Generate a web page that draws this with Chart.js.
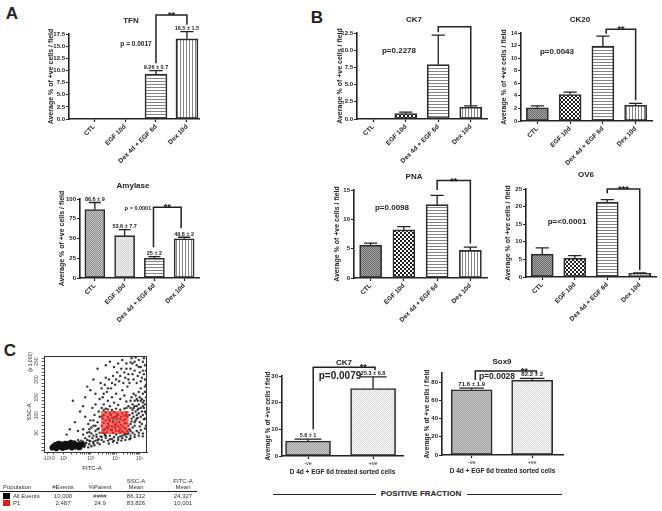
<!DOCTYPE html>
<html>
<head>
<meta charset="utf-8">
<script src="https://cdn.jsdelivr.net/npm/chart.js@4.4.1/dist/chart.umd.min.js"></script>
<style>
  body { margin: 0; background: #fff; }
  #page { position: relative; width: 662px; height: 511px; overflow: hidden; font-family: "Liberation Sans", Arial, sans-serif; color: #222; }
  #page canvas { position: absolute; }
  .t { position: absolute; white-space: nowrap; font-weight: bold; line-height: 1; transform: translate(-50%, -50%); }
  .t.v { transform: translate(-50%, -50%) rotate(-90deg); font-weight: normal; }
  .tl { position: absolute; white-space: nowrap; line-height: 1; transform: translateY(-50%); }
  .tab { font-weight: normal; font-size: 6px; color: #333; }
  .sq { position: absolute; width: 7px; height: 6px; }
  .rule { position: absolute; height: 0; border-top: 1px solid #222; }
</style>
</head>
<body>
<div id="page">
  <canvas id="tfn"></canvas>
  <canvas id="amy"></canvas>
  <canvas id="ck7"></canvas>
  <canvas id="ck20"></canvas>
  <canvas id="pna"></canvas>
  <canvas id="ov6"></canvas>
  <canvas id="facs"></canvas>
  <canvas id="sck7"></canvas>
  <canvas id="sox9"></canvas>

  <div class="t" style="left:12px;top:13px;font-size:17px">A</div>
  <div class="t" style="left:317px;top:17px;font-size:17px">B</div>
  <div class="t" style="left:10px;top:350px;font-size:17px">C</div>

  <div class="t" style="left:131px;top:21px;font-size:8px">TFN</div>
  <div class="t" style="left:133px;top:186px;font-size:8px">Amylase</div>
  <div class="t" style="left:414px;top:20px;font-size:8px">CK7</div>
  <div class="t" style="left:580px;top:20px;font-size:8px">CK20</div>
  <div class="t" style="left:414px;top:177px;font-size:8px">PNA</div>
  <div class="t" style="left:586px;top:175px;font-size:8px">OV6</div>
  <div class="t" style="left:344px;top:363px;font-size:8px">CK7</div>
  <div class="t" style="left:502px;top:362px;font-size:8px">Sox9</div>

  <div class="t" style="left:136px;top:44px;font-size:6.5px">p = 0.0017</div>
  <div class="t" style="left:138px;top:209px;font-size:5.5px">p = 0.0001</div>
  <div class="t" style="left:399px;top:51px;font-size:8px">p=0.2278</div>
  <div class="t" style="left:557px;top:52px;font-size:8px">p=0.0043</div>
  <div class="t" style="left:392px;top:208px;font-size:8px">p=0.0098</div>
  <div class="t" style="left:567px;top:222px;font-size:8px">p=&lt;0.0001</div>
  <div class="t" style="left:340px;top:376px;font-size:10px">p=0.0079</div>
  <div class="t" style="left:497px;top:376px;font-size:8.5px">p=0.0028</div>

  <div class="t v" style="left:30px;top:412px;font-size:5.5px">SSC-A</div>
  <div class="t v" style="left:30px;top:362px;font-size:5px">(x 1,000)</div>
  <div class="t" style="left:92px;top:468px;font-size:6px;font-weight:normal">FITC-A</div>
  <div class="t" style="left:115px;top:420px;font-size:5px;font-weight:normal;color:#444">P1</div>

  <div class="t tab" style="left:136px;top:481px">SSC-A</div>
  <div class="t tab" style="left:183px;top:481px">FITC-A</div>
  <div class="tl tab" style="left:3px;top:487px">Population</div>
  <div class="t tab" style="left:63px;top:487px">#Events</div>
  <div class="t tab" style="left:100px;top:487px">%Parent</div>
  <div class="t tab" style="left:136px;top:487px">Mean</div>
  <div class="t tab" style="left:183px;top:487px">Mean</div>
  <div class="rule" style="left:0;top:491px;width:197px"></div>
  <div class="sq" style="left:3px;top:493px;background:#000"></div>
  <div class="tl tab" style="left:13px;top:496px">All Events</div>
  <div class="t tab" style="left:63px;top:496px">10,000</div>
  <div class="t tab" style="left:100px;top:496px">####</div>
  <div class="t tab" style="left:136px;top:496px">86,312</div>
  <div class="t tab" style="left:183px;top:496px">24,327</div>
  <div class="sq" style="left:3px;top:500px;background:#e41b17"></div>
  <div class="tl tab" style="left:13px;top:503px">P1</div>
  <div class="t tab" style="left:63px;top:503px">2,487</div>
  <div class="t tab" style="left:100px;top:503px">24.9</div>
  <div class="t tab" style="left:136px;top:503px">83,826</div>
  <div class="t tab" style="left:183px;top:503px">10,001</div>

  <div class="rule" style="left:273px;top:494px;width:103px"></div>
  <div class="t" style="left:421px;top:494px;font-size:8px">POSITIVE FRACTION</div>
  <div class="rule" style="left:467px;top:494px;width:95px"></div>
</div>
<script>
// ---- data ----
var groups = ['CTL', 'EGF 10d', 'Dex 4d + EGF 6d', 'Dex 10d'];
var sortedGroups = ['-ve', '+ve'];

var tfnMean = [0, 0, 9.26, 16.5];
var tfnErr = [0, 0, 0.7, 1.5];
var tfnLabels = ['', '', '9.26 ± 0.7', '16.5 ± 1.5'];
var tfnTicks = [0, 2.5, 5, 7.5, 10, 12.5, 15, 17.5];

var amyMean = [86.6, 53.6, 25, 49.6];
var amyErr = [9, 7.7, 2, 2];
var amyLabels = ['86.6 ± 9', '53.6 ± 7.7', '25 ± 2', '49.6 ± 2'];
var amyTicks = [0, 25, 50, 75, 100];

var ck7Mean = [0, 0.8, 7.9, 1.7];
var ck7Err = [0, 0.2, 4.3, 0.2];
var ck7Ticks = [0, 2.5, 5, 7.5, 10, 12.5];

var ck20Mean = [2.1, 4.2, 11.9, 2.5];
var ck20Err = [0.3, 0.4, 1.6, 0.3];
var ck20Ticks = [0, 1, 2, 3, 4, 5, 6, 7, 8, 9, 10, 11, 12, 13, 14];

var pnaMean = [5.6, 8.2, 12.5, 4.7];
var pnaErr = [0.35, 0.55, 1.6, 0.55];
var pnaTicks = [0, 5, 10, 15];

var ov6Mean = [6.5, 5.3, 21.3, 1.05];
var ov6Err = [1.8, 0.8, 0.7, 0.15];
var ov6Ticks = [0, 5, 10, 15, 20, 25];

var sortCk7Mean = [5.6, 25.3];
var sortCk7Err = [0.7, 4.4];
var sortCk7Labels = ['5.6 ± 1', '25.3 ± 6.8'];
var sortCk7Ticks = [0, 10, 20, 30];

var sox9Mean = [71.6, 82.2];
var sox9Err = [1.9, 2];
var sox9Labels = ['71.6 ± 1.9', '82.2 ± 2'];
var sox9Ticks = [0, 10, 20, 30, 40, 50, 60, 70, 80, 90];

// flow plot: FITC-A (display units 0-100) vs SSC-A (x 1,000)
var fitcTickPos = [3, 9, 19, 45.5, 70, 93];
var fitcTickLabels = ['-10²', '0', '10²', '10³', '10⁴', '10⁵'];
var sscTicks = [50, 100, 150, 200, 250];
var p1Gate = [55.4, 82.2, 46.6, 111.3];

var eventsCore = [[8,8],[10,12],[12,6],[13,15],[15,10],[17,18],[18,7],[19,13],[21,20],[22,10],[23,16],[25,12],
  [26,22],[27,8],[14,20],[11,16],[16,14],[20,9],[24,19],[28,15],[30,11],[9,11],[29,20],[31,17],[33,14],
  [35,12],[37,18],[34,9]];
var events = [[32,8],[34,12],[35,20],[36,6],[37,16],[38,25],[39,10],[40,14],[41,22],[42,30],[43,9],[44,18],[45,26],
  [46,12],[47,35],[48,20],[49,15],[50,28],[51,38],[52,22],[53,32],[54,18],[55,40],[36,28],[40,35],[44,40],[38,45],
  [33,30],[30,26],[48,42],
  [56,30],[58,25],[60,36],[62,28],[64,42],[66,33],[68,38],[70,45],[72,30],[74,40],[76,35],[78,44],[80,38],[82,48],
  [84,42],[86,50],[88,45],[90,55],[92,50],[94,58],[96,48],[98,62],[59,44],[63,20],[67,25],[71,22],[75,28],[79,30],[83,32],
  [42,50],[44,60],[46,48],[48,70],[50,55],[52,80],[53,62],[54,95],[45,85],[49,100],[51,45],[47,120],[43,75],[40,95],
  [38,60],[53,110],[50,130],
  [83,60],[84,75],[85,90],[86,105],[87,120],[88,70],[89,85],[90,100],[91,115],[92,130],[93,80],[94,95],[95,110],[96,125],
  [97,140],[98,90],[99,105],[99,150],[98,165],[97,120],[96,160],[95,145],[94,175],[93,150],[92,165],[91,140],[90,125],
  [89,155],[88,140],[87,160],[86,130],[85,150],[84,120],[83,100],[100,120],[100,170],[100,200],[99,185],[98,200],[97,215],
  [56,120],[58,130],[60,118],[62,140],[64,125],[66,150],[68,135],[70,160],[72,128],[74,145],[76,170],[78,155],[80,138],
  [81,180],[57,150],[61,165],[65,175],[69,185],[73,195],[77,190],[79,205],[63,200],[59,185],[67,210],[71,220],[75,230],
  [82,215],[84,230],[86,245],[88,225],[90,240],[92,255],[94,235],[96,250],[98,240],[85,260],[89,262],[93,220],[80,245],
  [76,255],[72,245],[68,235],[64,250],[95,205],[91,210],[87,200],[83,190],[99,225],[97,260],[100,245],
  [25,60],[30,80],[35,110],[28,140],[40,150],[45,170],[33,55],[22,45],[50,160],[55,190],[48,200],[38,125],[42,180],
  [60,240],[52,230],
  [84,55],[86,65],[88,80],[90,90],[92,105],[94,120],[96,135],[98,110],[85,82],[87,95],[89,110],[91,92],[93,68],[95,75],
  [97,88],[99,70],[100,95],[86,115],[88,125],[90,145],[92,118],[94,140],[96,100],[98,130],[100,140],[84,140],[82,125],
  [80,120],[78,118],[74,115],[70,118],[66,114],[62,116],[58,114],[54,50],[52,60],[50,70],[48,85],[46,65],[44,52],
  [56,38],[60,42],[64,32],[68,28],[72,36],[76,42],[80,46],[84,35],[88,38],[92,42],[96,40],[100,50],[52,30],[48,25],
  [44,28],[40,20],[36,14],[34,24],[30,18],[28,26],[26,28],[24,25],[20,24],[18,22],[15,24],[12,20],
  [70,200],[74,210],[78,220],[82,200],[86,215],[90,190],[94,195],[98,180],[100,185],[96,225],[92,235],[88,250],[84,248],
  [80,230],[66,190],[62,175],[58,160],[54,145],[56,175],[60,205]];
var p1Events = [[57,50],[59,60],[61,52],[63,70],[65,58],[67,80],[69,64],[71,90],[73,55],[75,72],[77,85],[79,62],[81,95],
  [58,100],[60,85],[62,95],[64,105],[66,92],[68,108],[70,75],[72,100],[74,88],[76,105],[78,98],[80,78],[56,70],[58,78],
  [62,62],[66,68],[70,56],[74,62],[78,50],[80,108],[76,55],[72,68],[68,94],[64,84],[60,108],[57,90],[82,70],
  [59,48],[61,66],[63,88],[65,100],[67,50],[69,72],[71,104],[73,80],[75,95],[77,66],[79,88],[81,55],[58,58],[62,76],
  [66,58],[70,96],[74,50],[78,76],[80,100],[56,96]];

// ---- styles ----
var ink = '#222';
var fam = '"Liberation Sans", Arial, sans-serif';
Chart.defaults.font.family = fam;
Chart.defaults.color = ink;

function pattern(size, draw) {
  var c = document.createElement('canvas');
  c.width = size; c.height = size;
  var g = c.getContext('2d');
  draw(g);
  return g.createPattern(c, 'repeat');
}
function checker(size, a, b) {
  return pattern(size * 2, function (g) {
    g.fillStyle = a; g.fillRect(0, 0, size * 2, size * 2);
    g.fillStyle = b; g.fillRect(0, 0, size, size); g.fillRect(size, size, size, size);
  });
}
var hStripe = pattern(3, function (g) { g.fillStyle = '#fff'; g.fillRect(0, 0, 3, 3); g.fillStyle = '#858585'; g.fillRect(0, 0, 3, 1); });
var vStripe = pattern(3, function (g) { g.fillStyle = '#fff'; g.fillRect(0, 0, 3, 3); g.fillStyle = '#858585'; g.fillRect(0, 0, 1, 3); });
var darkFine = checker(1, '#a6a6a6', '#686868');
var blackChecker = checker(2, '#fff', '#1c1c1c');
var amyCtl = checker(1, '#c6c6c6', '#8e8e8e');
var lightDot = checker(1, '#f2f2f2', '#cfcfcf');
var negFill = checker(1, '#c4c4c4', '#a6a6a6');
var posFill = checker(1, '#f6f6f6', '#dcdcdc');

var fillsB = [darkFine, blackChecker, hStripe, vStripe];

function extras(cfg) {
  return {
    id: 'extras',
    afterDraw: function (chart) {
      var ctx = chart.ctx, xs = chart.scales.x, ys = chart.scales.y, ca = chart.chartArea;
      ctx.save();
      ctx.strokeStyle = ink; ctx.fillStyle = ink; ctx.lineWidth = 1.3;
      chart.getDatasetMeta(0).data.forEach(function (bar, i) {
        var e = cfg.err[i];
        if (!e) return;
        var top = ys.getPixelForValue(cfg.mean[i] + e), w = bar.width * 0.3;
        ctx.beginPath();
        ctx.moveTo(bar.x, bar.y); ctx.lineTo(bar.x, top);
        ctx.moveTo(bar.x - w, top); ctx.lineTo(bar.x + w, top);
        ctx.stroke();
      });
      if (cfg.labels) {
        ctx.font = 'bold ' + cfg.labelSize + 'px ' + fam;
        ctx.textAlign = 'center'; ctx.textBaseline = 'bottom';
        cfg.labels.forEach(function (s, i) {
          if (!s) return;
          ctx.fillText(s, xs.getPixelForValue(i + 1), ys.getPixelForValue(cfg.mean[i] + cfg.err[i]) - 0.5);
        });
      }
      ctx.lineWidth = 1.5;
      (cfg.brackets || []).forEach(function (b) {
        var x1 = xs.getPixelForValue(b.a), x2 = xs.getPixelForValue(b.b), yt = ys.getPixelForValue(b.top);
        ctx.beginPath();
        ctx.moveTo(x1, ys.getPixelForValue(b.ya)); ctx.lineTo(x1, yt);
        ctx.lineTo(x2, yt); ctx.lineTo(x2, ys.getPixelForValue(b.yb));
        ctx.stroke();
        if (b.txt) {
          ctx.font = 'bold 9px ' + fam;
          ctx.textAlign = 'center'; ctx.textBaseline = 'alphabetic';
          ctx.fillText(b.txt, xs.getPixelForValue(b.tx || (b.a + b.b) / 2), yt + 3);
        }
      });
      ctx.font = 'bold ' + cfg.yTitleSize + 'px ' + fam;
      ctx.textAlign = 'center'; ctx.textBaseline = 'middle';
      if (cfg.xTitle) ctx.fillText(cfg.xTitle, (ca.left + ca.right) / 2, ca.bottom + 16);
      ctx.translate(ca.left - cfg.yGap, (ca.top + ca.bottom) / 2);
      ctx.rotate(-Math.PI / 2);
      ctx.fillText('Average % of +ve cells / field', 0, 0);
      ctx.restore();
    }
  };
}

function makeBar(id, cfg) {
  var LM = 30, TM = 34, RM = 8, BM = cfg.bm;
  var box = cfg.box;
  var cv = document.getElementById(id);
  var W = box[2] - box[0] + LM + RM, H = box[3] - box[1] + TM + BM;
  cv.width = W; cv.height = H;
  cv.style.left = (box[0] - LM) + 'px';
  cv.style.top = (box[1] - TM) + 'px';
  var rot = cfg.groups.length > 2 ? 45 : 0;
  var gridOpts = { offset: false, drawOnChartArea: false, tickLength: 3, tickColor: ink, tickWidth: 1.2 };
  return new Chart(cv, {
    type: 'bar',
    data: {
      datasets: [{
        data: cfg.mean.map(function (v, i) { return { x: i + 1, y: v }; }),
        backgroundColor: cfg.fills,
        borderColor: '#2b2b2b',
        borderWidth: 1.6,
        borderSkipped: false,
        barThickness: cfg.bw
      }]
    },
    options: {
      responsive: false,
      animation: false,
      devicePixelRatio: 1,
      layout: { padding: { top: TM, right: RM, left: 0, bottom: 0 } },
      plugins: { legend: { display: false }, tooltip: { enabled: false } },
      scales: {
        x: {
          type: 'linear', min: cfg.xr[0], max: cfg.xr[1], offset: false,
          grid: gridOpts,
          border: { color: ink, width: 1.6 },
          ticks: {
            autoSkip: false, minRotation: rot, maxRotation: rot, padding: 1, color: ink,
            font: { size: cfg.xFont, weight: rot ? 'bold' : 'normal' },
            callback: function (v) { return cfg.groups[v - 1] || ''; }
          },
          afterBuildTicks: function (s) { s.ticks = cfg.groups.map(function (g, i) { return { value: i + 1 }; }); },
          afterFit: function (s) { s.height = BM; s.paddingLeft = 0; s.paddingRight = 0; }
        },
        y: {
          min: 0, max: cfg.yTicks[cfg.yTicks.length - 1],
          grid: gridOpts,
          border: { color: ink, width: 1.6 },
          ticks: {
            padding: 1, color: ink, font: { size: cfg.yFont || 6, weight: 'bold' },
            callback: function (v) { return cfg.dec ? v.toFixed(1) : String(v); }
          },
          afterBuildTicks: function (s) { s.ticks = cfg.yTicks.map(function (v) { return { value: v }; }); },
          afterFit: function (s) { s.width = LM; s.paddingTop = 0; s.paddingBottom = 0; }
        }
      }
    },
    plugins: [extras(cfg)]
  });
}

makeBar('tfn', {
  box: [69, 34, 199, 119], xr: [0.19, 4.39], bw: 22, bm: 50, groups: groups, xFont: 6.5,
  mean: tfnMean, err: tfnErr, labels: tfnLabels, labelSize: 5.5, yTicks: tfnTicks, dec: true,
  fills: [darkFine, blackChecker, hStripe, vStripe], yGap: 18, yTitleSize: 7,
  brackets: [{ a: 3, b: 4, top: 21.4, ya: 11.5, yb: 19.4, txt: '**' }]
});
makeBar('amy', {
  box: [80, 199, 199, 278], xr: [0.5, 4.5], bw: 20, bm: 50, groups: groups, xFont: 6.5,
  mean: amyMean, err: amyErr, labels: amyLabels, labelSize: 5.5, yTicks: amyTicks,
  fills: [amyCtl, lightDot, hStripe, vStripe], yGap: 18, yTitleSize: 7,
  brackets: [{ a: 2.97, b: 3.9, top: 89.5, ya: 39, yb: 63, txt: '**' }]
});
makeBar('ck7', {
  box: [357, 33, 487, 119], xr: [0.5, 4.5], bw: 22, bm: 50, groups: groups, xFont: 6.5,
  mean: ck7Mean, err: ck7Err, yTicks: ck7Ticks, dec: true,
  fills: fillsB, yGap: 17, yTitleSize: 7,
  brackets: [{ a: 3, b: 4, top: 13.4, ya: 12.6, yb: 2.0 }]
});
makeBar('ck20', {
  box: [521, 33, 652, 121], xr: [0.5, 4.5], bw: 22, bm: 50, groups: groups, xFont: 6.5,
  mean: ck20Mean, err: ck20Err, yTicks: ck20Ticks, yFont: 5.5,
  fills: fillsB, yGap: 17, yTitleSize: 7,
  brackets: [{ a: 3.1, b: 4, top: 14.6, ya: 13.9, yb: 3.3, txt: '**' }]
});
makeBar('pna', {
  box: [354, 190, 487, 278], xr: [0.5, 4.5], bw: 22, bm: 50, groups: groups, xFont: 6.5,
  mean: pnaMean, err: pnaErr, yTicks: pnaTicks,
  fills: fillsB, yGap: 17, yTitleSize: 7,
  brackets: [{ a: 3, b: 4, top: 16.6, ya: 15.0, yb: 5.9, txt: '**' }]
});
makeBar('ov6', {
  box: [526, 189, 656, 277], xr: [0.5, 4.5], bw: 22, bm: 50, groups: groups, xFont: 6.5,
  mean: ov6Mean, err: ov6Err, yTicks: ov6Ticks,
  fills: fillsB, yGap: 18, yTitleSize: 7,
  brackets: [{ a: 3, b: 4, top: 25.0, ya: 23.8, yb: 2.0, txt: '***' }]
});
makeBar('sck7', {
  box: [282, 376, 403, 456], xr: [0.6, 2.46], bw: 45, bm: 20, groups: sortedGroups, xFont: 5.5,
  mean: sortCk7Mean, err: sortCk7Err, labels: sortCk7Labels, labelSize: 5.5, yTicks: sortCk7Ticks,
  fills: [negFill, posFill], yGap: 14, yTitleSize: 6.5,
  xTitle: 'D 4d + EGF 6d treated sorted cells',
  brackets: [{ a: 1.08, b: 2.03, top: 33.3, ya: 10.0, yb: 32.2, txt: '**', tx: 1.85 }]
});
makeBar('sox9', {
  box: [442, 373, 563, 455], xr: [0.51, 2.51], bw: 41, bm: 20, groups: sortedGroups, xFont: 5.5,
  mean: sox9Mean, err: sox9Err, labels: sox9Labels, labelSize: 6, yTicks: sox9Ticks,
  fills: [negFill, posFill], yGap: 15, yTitleSize: 6.5,
  xTitle: 'D 4d + EGF 6d treated sorted cells',
  brackets: [{ a: 1.06, b: 2.07, top: 92.2, ya: 82.3, yb: 89.7, txt: '**', tx: 1.87 }]
});

// ---- flow cytometry dot plot ----
(function () {
  var box = [44, 356, 147, 452], LM = 18, TM = 4, RM = 6, BM = 14;
  var cv = document.getElementById('facs');
  cv.width = box[2] - box[0] + LM + RM; cv.height = box[3] - box[1] + TM + BM;
  cv.style.left = (box[0] - LM) + 'px'; cv.style.top = (box[1] - TM) + 'px';
  function xy(a) { return a.map(function (p) { return { x: p[0], y: p[1] }; }); }
  var minorX = [];
  [[19, 45.5], [45.5, 70], [70, 93]].forEach(function (d) {
    for (var k = 2; k < 10; k++) minorX.push(d[0] + Math.log10(k) * (d[1] - d[0]));
  });
  var minorY = [];
  for (var v = 0; v <= 260; v += 10) minorY.push(v);
  var gate = {
    id: 'gate',
    beforeDatasetsDraw: function (chart) {
      var xs = chart.scales.x, ys = chart.scales.y, ctx = chart.ctx;
      var x1 = xs.getPixelForValue(p1Gate[0]), x2 = xs.getPixelForValue(p1Gate[1]);
      var y1 = ys.getPixelForValue(p1Gate[3]), y2 = ys.getPixelForValue(p1Gate[2]);
      ctx.save();
      ctx.fillStyle = 'rgba(226, 36, 30, 0.62)';
      ctx.fillRect(x1, y1, x2 - x1, y2 - y1);
      ctx.restore();
    },
    afterDraw: function (chart) {
      var ca = chart.chartArea, ctx = chart.ctx;
      ctx.save();
      ctx.strokeStyle = '#333'; ctx.lineWidth = 1;
      ctx.strokeRect(ca.left + 0.5, ca.top + 0.5, ca.right - ca.left - 1, ca.bottom - ca.top);
      ctx.restore();
    }
  };
  var g = { drawOnChartArea: false, tickLength: 2.5, tickColor: '#333', tickWidth: 0.8 };
  new Chart(cv, {
    type: 'scatter',
    data: {
      datasets: [
        { label: 'All Events', data: xy(events), pointRadius: 1.2, backgroundColor: 'rgba(20,20,20,0.85)', borderWidth: 0 },
        { label: 'All Events core', data: xy(eventsCore), pointRadius: 2.8, backgroundColor: '#111', borderWidth: 0 },
        { label: 'P1', data: xy(p1Events), pointRadius: 1.2, backgroundColor: '#e41b17', borderWidth: 0 }
      ]
    },
    options: {
      responsive: false, animation: false, devicePixelRatio: 1,
      layout: { padding: { top: TM, right: RM, left: 0, bottom: 0 } },
      plugins: { legend: { display: false }, tooltip: { enabled: false } },
      scales: {
        x: {
          min: 0, max: 100, grid: g, border: { color: '#333', width: 1 },
          ticks: {
            autoSkip: false, maxRotation: 0, padding: 1, color: '#444', font: { size: 5 },
            callback: function (v) { var i = fitcTickPos.indexOf(v); return i < 0 ? '' : fitcTickLabels[i]; }
          },
          afterBuildTicks: function (s) { s.ticks = fitcTickPos.concat(minorX).map(function (v) { return { value: v }; }); },
          afterFit: function (s) { s.height = BM; s.paddingLeft = 0; s.paddingRight = 0; }
        },
        y: {
          min: -4, max: 266, grid: g, border: { color: '#333', width: 1 },
          ticks: {
            autoSkip: false, minRotation: 90, maxRotation: 90, crossAlign: 'center', padding: 1,
            color: '#444', font: { size: 5 },
            callback: function (v) { return sscTicks.indexOf(v) < 0 ? '' : String(v); }
          },
          afterBuildTicks: function (s) { s.ticks = minorY.map(function (v) { return { value: v }; }); },
          afterFit: function (s) { s.width = LM; s.paddingTop = 0; s.paddingBottom = 0; }
        }
      }
    },
    plugins: [gate]
  });
})();
</script>
</body>
</html>
